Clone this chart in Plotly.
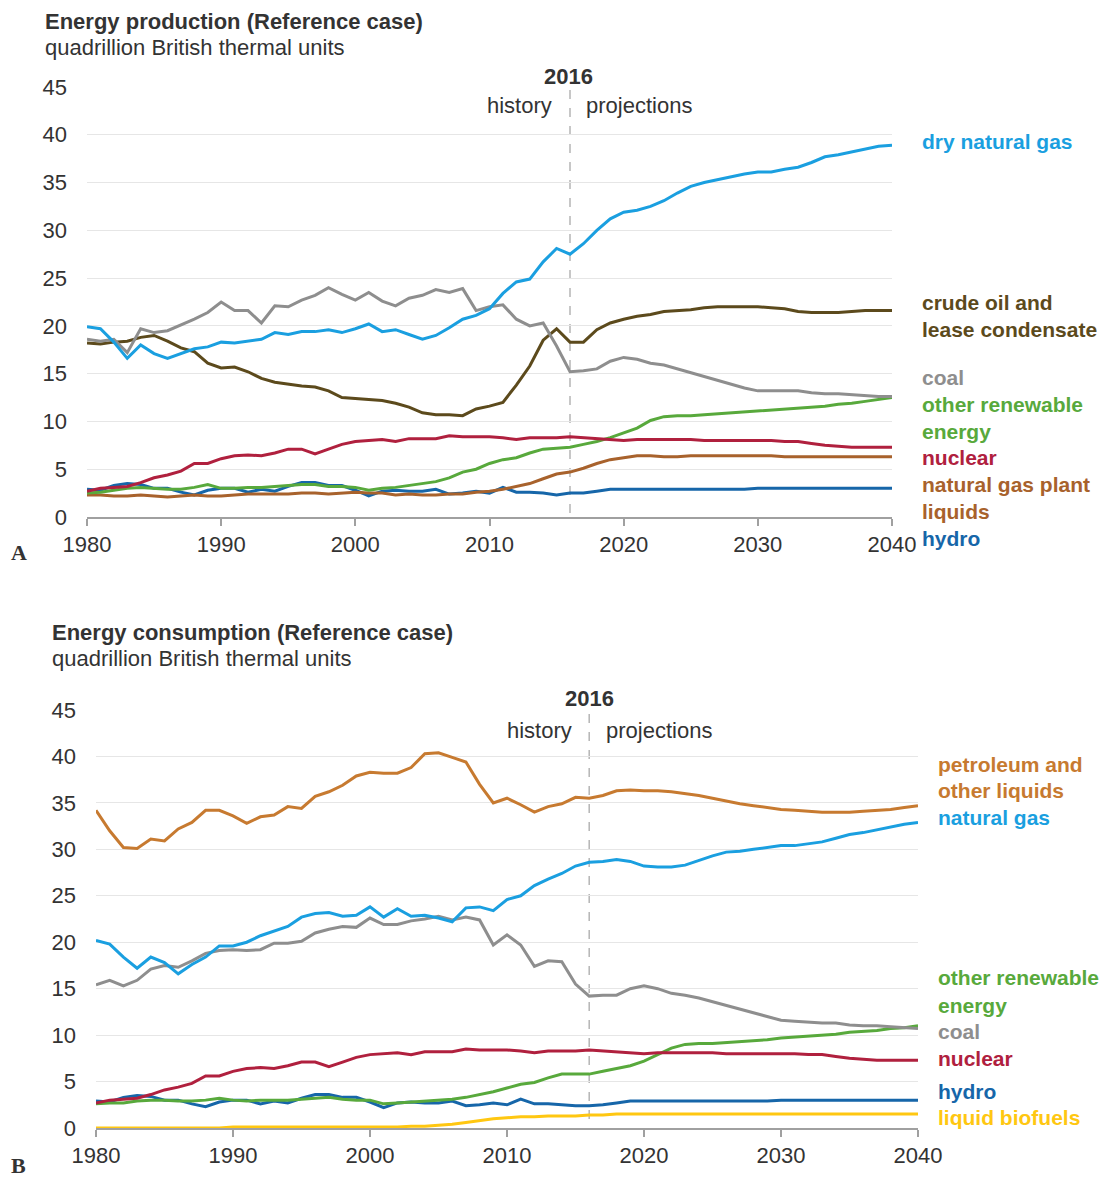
import plotly.graph_objects as go

years = list(range(1980, 2041))

# ---------------- Panel A: production ----------------
prod_dry_gas = [19.9, 19.7, 18.3, 16.6, 18.0, 17.1, 16.6, 17.1, 17.6, 17.8,
                18.3, 18.2, 18.4, 18.6, 19.3, 19.1, 19.4, 19.4, 19.6, 19.3,
                19.7, 20.2, 19.4, 19.6, 19.1, 18.6, 19.0, 19.8, 20.7, 21.1,
                21.8, 23.4, 24.6, 24.9, 26.7, 28.1, 27.5, 28.6, 30.0, 31.2,
                31.9, 32.1, 32.5, 33.1, 33.9, 34.6, 35.0, 35.3, 35.6, 35.9,
                36.1, 36.1, 36.4, 36.6, 37.1, 37.7, 37.9, 38.2, 38.5, 38.8, 38.9]
prod_crude = [18.2, 18.1, 18.3, 18.4, 18.8, 19.0, 18.4, 17.7, 17.3, 16.1,
              15.6, 15.7, 15.2, 14.5, 14.1, 13.9, 13.7, 13.6, 13.2, 12.5,
              12.4, 12.3, 12.2, 11.9, 11.5, 10.9, 10.7, 10.7, 10.6, 11.3,
              11.6, 12.0, 13.8, 15.8, 18.5, 19.7, 18.3, 18.3, 19.6, 20.3,
              20.7, 21.0, 21.2, 21.5, 21.6, 21.7, 21.9, 22.0, 22.0, 22.0,
              22.0, 21.9, 21.8, 21.5, 21.4, 21.4, 21.4, 21.5, 21.6, 21.6, 21.6]
prod_coal = [18.6, 18.4, 18.6, 17.2, 19.7, 19.3, 19.5, 20.1, 20.7, 21.4,
             22.5, 21.6, 21.6, 20.3, 22.1, 22.0, 22.7, 23.2, 24.0, 23.3,
             22.7, 23.5, 22.6, 22.1, 22.9, 23.2, 23.8, 23.5, 23.9, 21.6,
             22.0, 22.2, 20.7, 20.0, 20.3, 17.9, 15.2, 15.3, 15.5, 16.3,
             16.7, 16.5, 16.1, 15.9, 15.5, 15.1, 14.7, 14.3, 13.9, 13.5,
             13.2, 13.2, 13.2, 13.2, 13.0, 12.9, 12.9, 12.8, 12.7, 12.6, 12.6]
prod_renew = [2.5, 2.6, 2.8, 3.0, 3.1, 3.0, 2.9, 2.9, 3.1, 3.4,
              3.0, 3.0, 3.1, 3.1, 3.2, 3.3, 3.4, 3.4, 3.2, 3.2,
              3.1, 2.8, 3.0, 3.1, 3.3, 3.5, 3.7, 4.1, 4.7, 5.0,
              5.6, 6.0, 6.2, 6.7, 7.1, 7.2, 7.3, 7.6, 7.9, 8.3,
              8.8, 9.3, 10.1, 10.5, 10.6, 10.6, 10.7, 10.8, 10.9, 11.0,
              11.1, 11.2, 11.3, 11.4, 11.5, 11.6, 11.8, 11.9, 12.1, 12.3, 12.5]
prod_nuclear = [2.7, 3.0, 3.1, 3.2, 3.6, 4.1, 4.4, 4.8, 5.6, 5.6,
                6.1, 6.4, 6.5, 6.4, 6.7, 7.1, 7.1, 6.6, 7.1, 7.6,
                7.9, 8.0, 8.1, 7.9, 8.2, 8.2, 8.2, 8.5, 8.4, 8.4,
                8.4, 8.3, 8.1, 8.3, 8.3, 8.3, 8.4, 8.3, 8.2, 8.1,
                8.0, 8.1, 8.1, 8.1, 8.1, 8.1, 8.0, 8.0, 8.0, 8.0,
                8.0, 8.0, 7.9, 7.9, 7.7, 7.5, 7.4, 7.3, 7.3, 7.3, 7.3]
prod_ngpl = [2.3, 2.3, 2.2, 2.2, 2.3, 2.2, 2.1, 2.2, 2.3, 2.2,
             2.2, 2.3, 2.4, 2.4, 2.4, 2.4, 2.5, 2.5, 2.4, 2.5,
             2.6, 2.5, 2.5, 2.3, 2.4, 2.3, 2.3, 2.4, 2.4, 2.6,
             2.7, 2.9, 3.2, 3.5, 4.0, 4.5, 4.7, 5.1, 5.6, 6.0,
             6.2, 6.4, 6.4, 6.3, 6.3, 6.4, 6.4, 6.4, 6.4, 6.4,
             6.4, 6.4, 6.3, 6.3, 6.3, 6.3, 6.3, 6.3, 6.3, 6.3, 6.3]
prod_hydro = [2.9, 2.8, 3.3, 3.5, 3.4, 3.0, 3.0, 2.6, 2.3, 2.8,
              3.0, 3.0, 2.6, 2.9, 2.7, 3.2, 3.6, 3.6, 3.3, 3.3,
              2.8, 2.2, 2.7, 2.8, 2.7, 2.7, 2.9, 2.4, 2.5, 2.7,
              2.5, 3.1, 2.6, 2.6, 2.5, 2.3, 2.5, 2.5, 2.7, 2.9,
              2.9, 2.9, 2.9, 2.9, 2.9, 2.9, 2.9, 2.9, 2.9, 2.9,
              3.0, 3.0, 3.0, 3.0, 3.0, 3.0, 3.0, 3.0, 3.0, 3.0, 3.0]

# ---------------- Panel B: consumption ----------------
cons_petro = [34.2, 32.0, 30.2, 30.1, 31.1, 30.9, 32.2, 32.9, 34.2, 34.2,
              33.6, 32.8, 33.5, 33.7, 34.6, 34.4, 35.7, 36.2, 36.9, 37.9,
              38.3, 38.2, 38.2, 38.8, 40.3, 40.4, 39.9, 39.4, 37.0, 35.0,
              35.5, 34.8, 34.0, 34.6, 34.9, 35.6, 35.5, 35.8, 36.3, 36.4,
              36.3, 36.3, 36.2, 36.0, 35.8, 35.5, 35.2, 34.9, 34.7, 34.5,
              34.3, 34.2, 34.1, 34.0, 34.0, 34.0, 34.1, 34.2, 34.3, 34.5, 34.7]
cons_gas = [20.2, 19.8, 18.4, 17.2, 18.4, 17.8, 16.6, 17.6, 18.4, 19.6,
            19.6, 20.0, 20.7, 21.2, 21.7, 22.7, 23.1, 23.2, 22.8, 22.9,
            23.8, 22.7, 23.6, 22.8, 22.9, 22.6, 22.2, 23.7, 23.8, 23.4,
            24.6, 25.0, 26.1, 26.8, 27.4, 28.2, 28.6, 28.7, 28.9, 28.7,
            28.2, 28.1, 28.1, 28.3, 28.8, 29.3, 29.7, 29.8, 30.0, 30.2,
            30.4, 30.4, 30.6, 30.8, 31.2, 31.6, 31.8, 32.1, 32.4, 32.7, 32.9]
cons_coal = [15.4, 15.9, 15.3, 15.9, 17.1, 17.5, 17.3, 18.0, 18.8, 19.1,
             19.2, 19.1, 19.2, 19.9, 19.9, 20.1, 21.0, 21.4, 21.7, 21.6,
             22.6, 21.9, 21.9, 22.3, 22.5, 22.8, 22.4, 22.7, 22.4, 19.7,
             20.8, 19.7, 17.4, 18.0, 17.9, 15.5, 14.2, 14.3, 14.3, 15.0,
             15.3, 15.0, 14.5, 14.3, 14.0, 13.6, 13.2, 12.8, 12.4, 12.0,
             11.6, 11.5, 11.4, 11.3, 11.3, 11.1, 11.0, 11.0, 10.9, 10.8, 10.7]
cons_renew = [2.6, 2.7, 2.7, 2.9, 3.0, 3.0, 2.9, 2.9, 3.0, 3.2,
              3.0, 2.9, 3.0, 3.0, 3.0, 3.1, 3.2, 3.3, 3.1, 3.0,
              3.0, 2.6, 2.7, 2.8, 2.9, 3.0, 3.1, 3.3, 3.6, 3.9,
              4.3, 4.7, 4.9, 5.4, 5.8, 5.8, 5.8, 6.1, 6.4, 6.7,
              7.2, 7.9, 8.6, 9.0, 9.1, 9.1, 9.2, 9.3, 9.4, 9.5,
              9.7, 9.8, 9.9, 10.0, 10.1, 10.3, 10.4, 10.5, 10.7, 10.8, 11.0]
cons_nuclear = [2.7, 3.0, 3.1, 3.2, 3.6, 4.1, 4.4, 4.8, 5.6, 5.6,
                6.1, 6.4, 6.5, 6.4, 6.7, 7.1, 7.1, 6.6, 7.1, 7.6,
                7.9, 8.0, 8.1, 7.9, 8.2, 8.2, 8.2, 8.5, 8.4, 8.4,
                8.4, 8.3, 8.1, 8.3, 8.3, 8.3, 8.4, 8.3, 8.2, 8.1,
                8.0, 8.1, 8.1, 8.1, 8.1, 8.1, 8.0, 8.0, 8.0, 8.0,
                8.0, 8.0, 7.9, 7.9, 7.7, 7.5, 7.4, 7.3, 7.3, 7.3, 7.3]
cons_hydro = [2.9, 2.8, 3.3, 3.5, 3.4, 3.0, 3.0, 2.6, 2.3, 2.8,
              3.0, 3.0, 2.6, 2.9, 2.7, 3.2, 3.6, 3.6, 3.3, 3.3,
              2.8, 2.2, 2.7, 2.8, 2.7, 2.7, 2.9, 2.4, 2.5, 2.7,
              2.5, 3.1, 2.6, 2.6, 2.5, 2.4, 2.4, 2.5, 2.7, 2.9,
              2.9, 2.9, 2.9, 2.9, 2.9, 2.9, 2.9, 2.9, 2.9, 2.9,
              3.0, 3.0, 3.0, 3.0, 3.0, 3.0, 3.0, 3.0, 3.0, 3.0, 3.0]
cons_biofuels = [0.0, 0.0, 0.0, 0.0, 0.0, 0.0, 0.0, 0.0, 0.0, 0.0,
                 0.1, 0.1, 0.1, 0.1, 0.1, 0.1, 0.1, 0.1, 0.1, 0.1,
                 0.1, 0.1, 0.1, 0.2, 0.2, 0.3, 0.4, 0.6, 0.8, 1.0,
                 1.1, 1.2, 1.2, 1.3, 1.3, 1.3, 1.4, 1.4, 1.5, 1.5,
                 1.5, 1.5, 1.5, 1.5, 1.5, 1.5, 1.5, 1.5, 1.5, 1.5,
                 1.5, 1.5, 1.5, 1.5, 1.5, 1.5, 1.5, 1.5, 1.5, 1.5, 1.5]

y_ticks = [0, 5, 10, 15, 20, 25, 30, 35, 40, 45]
x_ticks = [1980, 1990, 2000, 2010, 2020, 2030, 2040]

C_GAS = "#1a9fe0"
C_CRUDE = "#5c4a1c"
C_COAL = "#8e8e8e"
C_RENEW = "#58a93c"
C_NUC = "#b0203e"
C_NGPL = "#a8622c"
C_HYDRO = "#1666a9"
C_PETRO = "#c77a30"
C_BIO = "#ffc711"
TXT = "#333333"

# The page body has an 8px margin; the figure is sized to fit inside the window.
OFF = 8
W, H = 1112 - OFF, 1177 - OFF
def px(x):
    return (x - OFF) / W
def py(y):
    return 1 - (y - OFF) / H

fig = go.Figure()

prodA = [
    (prod_hydro, C_HYDRO, "hydro"),
    (prod_ngpl, C_NGPL, "natural gas plant liquids"),
    (prod_renew, C_RENEW, "other renewable energy"),
    (prod_nuclear, C_NUC, "nuclear"),
    (prod_crude, C_CRUDE, "crude oil and lease condensate"),
    (prod_coal, C_COAL, "coal"),
    (prod_dry_gas, C_GAS, "dry natural gas"),
]
for vals, col, name in prodA:
    fig.add_trace(go.Scatter(x=years, y=vals, mode="lines", name=name,
                             line=dict(color=col, width=3), xaxis="x", yaxis="y",
                             showlegend=False))

consB = [
    (cons_biofuels, C_BIO, "liquid biofuels"),
    (cons_hydro, C_HYDRO, "hydro"),
    (cons_renew, C_RENEW, "other renewable energy"),
    (cons_nuclear, C_NUC, "nuclear"),
    (cons_coal, C_COAL, "coal"),
    (cons_gas, C_GAS, "natural gas"),
    (cons_petro, C_PETRO, "petroleum and other liquids"),
]
for vals, col, name in consB:
    fig.add_trace(go.Scatter(x=years, y=vals, mode="lines", name=name,
                             line=dict(color=col, width=3), xaxis="x2", yaxis="y2",
                             showlegend=False))

font_family = "Liberation Sans, Arial, sans-serif"
FS = 22
LFS = 21
xcommon = dict(range=[1980, 2040], tickvals=x_ticks, showgrid=False, zeroline=False,
               showline=True, linecolor="#a0a0a0", linewidth=2, ticks="outside",
               ticklen=7, tickcolor="#a0a0a0", tickwidth=1.5,
               tickfont=dict(size=FS, color=TXT, family=font_family))
ycommon = dict(range=[0, 45], tickvals=y_ticks, showgrid=True, gridcolor="#e6e6e6",
               gridwidth=1, zeroline=False, showline=False, ticks="",
               tickfont=dict(size=FS, color=TXT, family=font_family))

fig.update_layout(
    width=W, height=H, margin=dict(l=0, r=0, t=0, b=0, autoexpand=False),
    paper_bgcolor="white", plot_bgcolor="white",
    font=dict(family=font_family, color=TXT),
    xaxis=dict(domain=[px(87), px(892)], anchor="y", **xcommon),
    yaxis=dict(domain=[py(517), py(87)], anchor="x", ticklabelstandoff=19, **ycommon),
    xaxis2=dict(domain=[px(96), px(918)], anchor="y2", **xcommon),
    yaxis2=dict(domain=[py(1128), py(710)], anchor="x2", ticklabelstandoff=19, **ycommon),
)

# dashed 2016 lines
fig.add_shape(type="line", x0=2016, x1=2016, xref="x", y0=py(90), y1=py(517), yref="paper",
              line=dict(color="#b5b5b5", width=1.5, dash="dash"), layer="below")
fig.add_shape(type="line", x0=2016, x1=2016, xref="x2", y0=py(714), y1=py(1128), yref="paper",
              line=dict(color="#b5b5b5", width=1.5, dash="dash"), layer="below")

ann = []
def txt(x, y, text, color=TXT, size=FS, bold=False, anchor="left", family=font_family):
    t = f"<b>{text}</b>" if bold else text
    ann.append(dict(x=px(x), y=py(y), xref="paper", yref="paper", text=t, showarrow=False,
                    xanchor=anchor, yanchor="middle",
                    font=dict(size=size, color=color, family=family)))

# Panel A text
txt(43, 21, "Energy production (Reference case)", bold=True)
txt(43, 47, "quadrillion British thermal units")
txt(568, 77, "2016", bold=True, anchor="center")
txt(554, 105, "history", anchor="right")
txt(584, 105, "projections")
labA = [
    (141, "dry natural gas", C_GAS),
    (302, "crude oil and", C_CRUDE),
    (329, "lease condensate", C_CRUDE),
    (377, "coal", C_COAL),
    (404, "other renewable", C_RENEW),
    (431, "energy", C_RENEW),
    (457, "nuclear", C_NUC),
    (485, "natural gas plant", C_NGPL),
    (511, "liquids", C_NGPL),
    (539, "hydro", C_HYDRO),
]
for y, t, c in labA:
    txt(920, y, t, color=c, bold=True, size=LFS)
txt(9, 552, "A", bold=True, size=22, family="Liberation Serif, Times New Roman, serif")

# Panel B text
txt(50, 632, "Energy consumption (Reference case)", bold=True)
txt(50, 659, "quadrillion British thermal units")
txt(589, 698, "2016", bold=True, anchor="center")
txt(574, 730, "history", anchor="right")
txt(604, 730, "projections")
labB = [
    (764, "petroleum and", C_PETRO),
    (790, "other liquids", C_PETRO),
    (817, "natural gas", C_GAS),
    (977, "other renewable", C_RENEW),
    (1005, "energy", C_RENEW),
    (1031, "coal", C_COAL),
    (1058, "nuclear", C_NUC),
    (1091, "hydro", C_HYDRO),
    (1117, "liquid biofuels", C_BIO),
]
for y, t, c in labB:
    txt(936, y, t, color=c, bold=True, size=LFS)
txt(9, 1165, "B", bold=True, size=22, family="Liberation Serif, Times New Roman, serif")

fig.update_layout(annotations=ann)
fig.write_html("out.html")
